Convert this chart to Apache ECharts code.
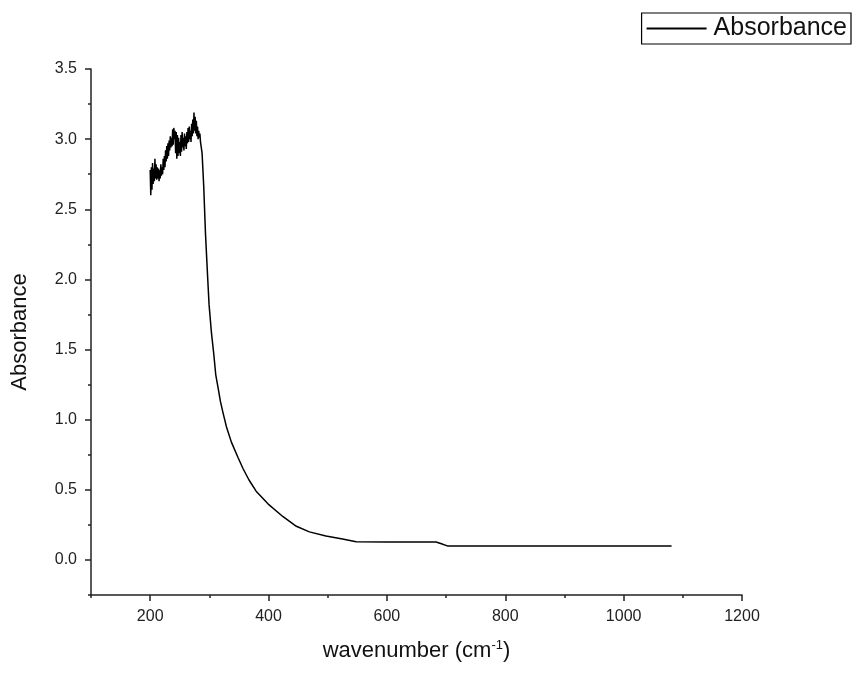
<!DOCTYPE html>
<html>
<head>
<meta charset="utf-8">
<title>Absorbance</title>
<script src="https://cdn.jsdelivr.net/npm/echarts@6/dist/echarts.min.js"></script>
<style>
    html, body { margin: 0; padding: 0; background: #fff; }
    #chart { width: 854px; height: 679px; }
</style>
</head>
<body>
<div id="chart"></div>
<script>
// 数据：波数 / 吸光度
var wavenumber = [
    200, 201, 202, 203, 204, 205, 206, 207, 208, 209,
    210, 211, 212, 213, 214, 215, 216, 217, 218, 219,
    220, 221, 222, 223, 224, 225, 226, 227, 228, 229,
    230, 231, 232, 233, 234, 235, 236, 237, 238, 239,
    240, 241, 242, 243, 244, 245, 246, 247, 248, 249,
    250, 251, 252, 253, 254, 255, 256, 257, 258, 259,
    260, 261, 262, 263, 264, 265, 266, 267, 268, 269,
    270, 271, 272, 273, 274, 275, 276, 277, 278, 279,
    280, 281, 282, 283, 284, 285,
    287.7, 290.5, 293.4, 296.8, 299.5, 303.5, 307.4, 310.8, 314.6, 318.7,
    323, 328.8, 337.2, 348.4, 357, 367, 379, 399, 424, 447,
    469, 497, 525, 548, 600, 683, 692, 702, 800, 1000, 1081
];
var absorbance = [
    2.78, 2.60, 2.80, 2.64, 2.83, 2.68, 2.79, 2.70, 2.86, 2.72,
    2.82, 2.71, 2.80, 2.72, 2.79, 2.70, 2.78, 2.72, 2.82, 2.74,
    2.80, 2.75, 2.86, 2.78, 2.88, 2.80, 2.92, 2.84, 2.95, 2.86,
    2.97, 2.88, 2.99, 2.92, 3.02, 2.94, 3.01, 2.95, 3.07, 2.96,
    3.08, 3.00, 3.06, 2.90, 3.05, 2.86, 3.03, 2.88, 3.01, 2.90,
    2.98, 2.88, 3.03, 2.91, 3.05, 2.94, 3.01, 2.92, 3.04, 2.95,
    3.02, 2.93, 3.05, 2.97, 3.08, 2.98, 3.09, 3.00, 3.06, 2.98,
    3.11, 3.02, 3.14, 3.04, 3.19, 3.06, 3.16, 3.04, 3.13, 3.02,
    3.09, 3.00, 3.06, 3.01, 3.04, 2.98,
    2.90, 2.66, 2.33, 2.04, 1.82, 1.62, 1.47, 1.32, 1.23, 1.13,
    1.05, 0.95, 0.84, 0.73, 0.65, 0.57, 0.49, 0.40, 0.31, 0.24,
    0.20, 0.17, 0.15, 0.13, 0.128, 0.128, 0.115, 0.10, 0.10, 0.10, 0.10
];

// 刻度
var xMajorTicks = [200, 400, 600, 800, 1000, 1200];
var xMinorTicks = [100, 300, 500, 700, 900, 1100];
var yMajorTicks = [0, 0.5, 1.0, 1.5, 2.0, 2.5, 3.0, 3.5];
var yMinorTicks = [-0.25, 0.25, 0.75, 1.25, 1.75, 2.25, 2.75, 3.25];

var seriesData = wavenumber.map(function (x, i) {
    return [x, absorbance[i]];
});

var myChart = echarts.init(document.getElementById('chart'));
var fontFamily = '"Liberation Sans", Arial, sans-serif';
var axisColor = '#222';

var option = {
    backgroundColor: '#fff',
    animation: false,
    textStyle: { fontFamily: fontFamily },
    grid: {
        left: 91,
        right: 112,
        top: 69,
        bottom: 84
    },
    legend: {
        right: 3,
        top: 13,
        padding: [3, 4, 3, 5],
        itemWidth: 60,
        itemHeight: 2,
        itemGap: 8,
        icon: 'rect',
        borderColor: '#000',
        borderWidth: 1.2,
        textStyle: {
            fontFamily: fontFamily,
            fontSize: 25,
            color: '#111',
            padding: [0, 0, 0, 2]
        },
        data: ['Absorbance']
    },
    xAxis: [
        {
            type: 'value',
            min: 100,
            max: 1200,
            interval: 100,
            name: 'wavenumber (cm{sup|-1})',
            nameLocation: 'middle',
            nameGap: 44,
            nameTextStyle: {
                fontSize: 22,
                color: '#111',
                rich: {
                    sup: { fontSize: 13, verticalAlign: 'top', padding: [0, 0, 10, 0], color: '#111' }
                }
            },
            axisLine: { onZero: false, lineStyle: { color: axisColor, width: 1.5 } },
            axisTick: { customValues: xMajorTicks, length: 6, lineStyle: { color: axisColor, width: 1.5 } },
            axisLabel: {
                customValues: xMajorTicks,
                margin: 14,
                fontSize: 16,
                color: '#222',
                formatter: function (v) { return String(v); }
            },
            splitLine: { show: false }
        },
        {
            type: 'value',
            min: 100,
            max: 1200,
            interval: 100,
            position: 'bottom',
            axisLine: { show: false, onZero: false },
            axisTick: { customValues: xMinorTicks, length: 3, lineStyle: { color: axisColor, width: 1.5 } },
            axisLabel: { show: false },
            splitLine: { show: false }
        }
    ],
    yAxis: [
        {
            type: 'value',
            min: -0.25,
            max: 3.5,
            interval: 0.25,
            name: 'Absorbance',
            nameLocation: 'middle',
            nameGap: 60,
            nameTextStyle: { fontSize: 22, color: '#111' },
            axisLine: { show: true, onZero: false, lineStyle: { color: axisColor, width: 1.5 } },
            axisTick: { show: true, customValues: yMajorTicks, length: 6, lineStyle: { color: axisColor, width: 1.5 } },
            axisLabel: {
                customValues: yMajorTicks,
                margin: 14,
                fontSize: 16,
                color: '#222',
                formatter: function (v) { return v.toFixed(1); }
            },
            splitLine: { show: false }
        },
        {
            type: 'value',
            min: -0.25,
            max: 3.5,
            interval: 0.25,
            position: 'left',
            axisLine: { show: false, onZero: false },
            axisTick: { show: true, customValues: yMinorTicks, length: 3, lineStyle: { color: axisColor, width: 1.5 } },
            axisLabel: { show: false },
            splitLine: { show: false }
        }
    ],
    series: [
        {
            name: 'Absorbance',
            type: 'line',
            xAxisIndex: 0,
            yAxisIndex: 0,
            symbol: 'none',
            data: seriesData,
            lineStyle: { color: '#000', width: 1.5 },
            itemStyle: { color: '#000' }
        }
    ]
};

window.addEventListener("resize", function () {
    myChart.resize();
});
myChart.setOption(option);
</script>
</body>
</html>
